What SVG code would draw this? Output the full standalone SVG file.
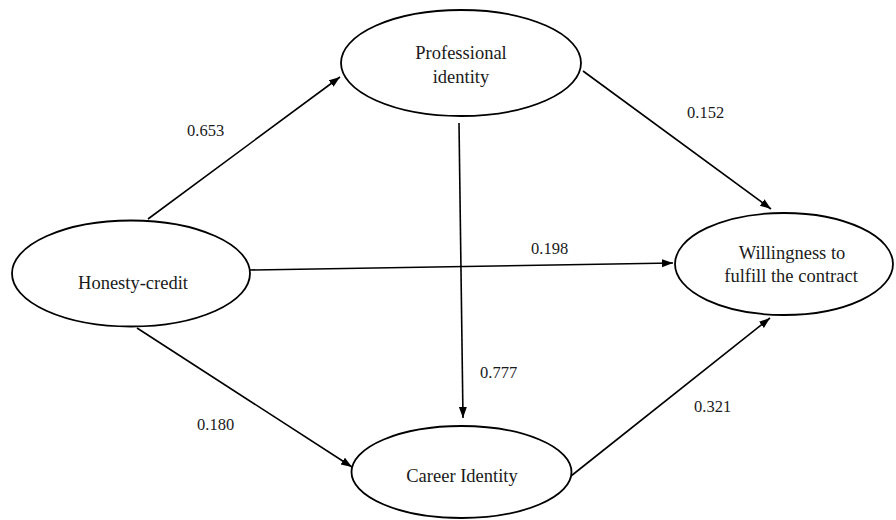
<svg xmlns="http://www.w3.org/2000/svg" width="896" height="520" viewBox="0 0 896 520">
<style>
.node ellipse{fill:#fff;stroke:#000;stroke-width:1.8}
.lbl{font-family:"Liberation Serif","Times New Roman",serif;font-size:18.5px;fill:#1a1a1a;text-anchor:middle}
.num{font-family:"Liberation Serif","Times New Roman",serif;font-size:16.5px;fill:#1a1a1a}
.edge{stroke:#000;stroke-width:1.6;fill:none;marker-end:url(#ah)}
</style>
<defs>
<marker id="ah" markerUnits="userSpaceOnUse" markerWidth="12" markerHeight="10" refX="11" refY="4" orient="auto">
<path d="M0,0 L11,4 L0,8 Z" fill="#000"/>
</marker>
</defs>
<rect width="896" height="520" fill="#fff"/>
<g id="connectors">
<line class="edge" x1="148" y1="219" x2="340" y2="77"/>
<line class="edge" x1="250" y1="270" x2="673" y2="263"/>
<line class="edge" x1="137" y1="328" x2="352" y2="467"/>
<line class="edge" x1="459" y1="123" x2="463" y2="418"/>
<line class="edge" x1="583" y1="71" x2="771" y2="209"/>
<line class="edge" x1="571" y1="476" x2="770" y2="318"/>
</g>
<g id="labels">
<text class="num" x="187" y="136">0.653</text>
<text class="num" x="687" y="118">0.152</text>
<text class="num" x="531" y="254">0.198</text>
<text class="num" x="480" y="378">0.777</text>
<text class="num" x="197" y="430">0.180</text>
<text class="num" x="694" y="412">0.321</text>
</g>
<g id="professional" class="node">
<ellipse cx="461" cy="63" rx="120" ry="53"/>
<text class="lbl" x="461" y="59">Professional</text>
<text class="lbl" x="461" y="83">identity</text>
</g>
<g id="honesty" class="node">
<ellipse cx="131" cy="273.5" rx="119" ry="53"/>
<text class="lbl" x="133" y="289">Honesty-credit</text>
</g>
<g id="willingness" class="node">
<ellipse cx="784" cy="264" rx="109" ry="51"/>
<text class="lbl" x="792" y="259">Willingness  to</text>
<text class="lbl" x="791" y="282">fulfill the contract</text>
</g>
<g id="career" class="node">
<ellipse cx="461.5" cy="472" rx="110" ry="46"/>
<text class="lbl" x="462" y="482">Career Identity</text>
</g>
</svg>
